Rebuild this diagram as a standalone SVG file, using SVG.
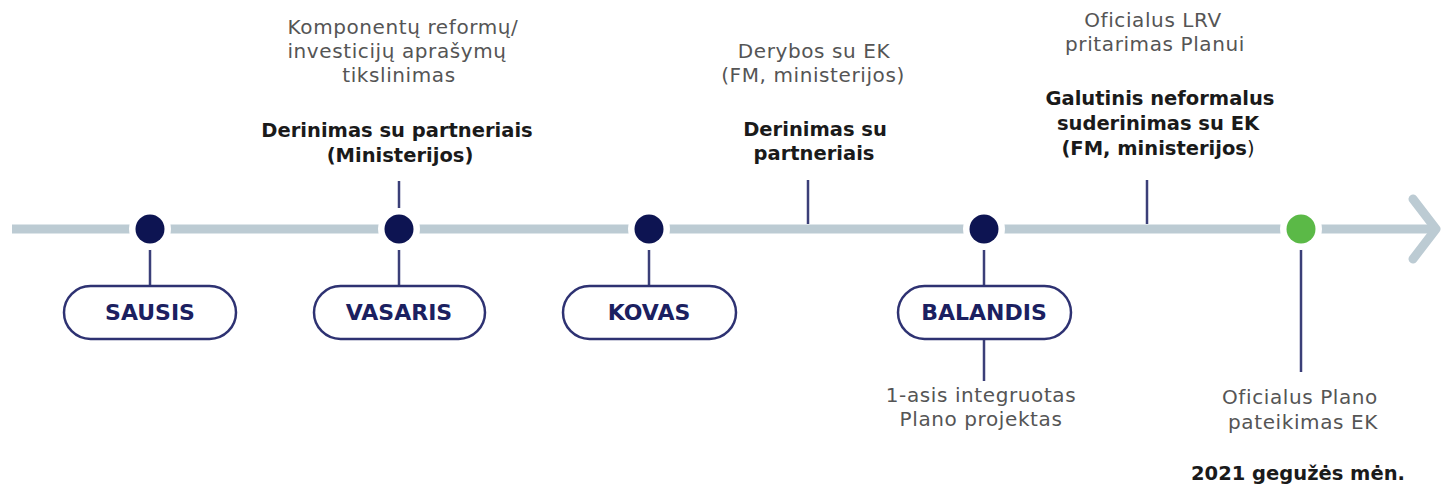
<svg xmlns="http://www.w3.org/2000/svg" width="1441" height="485" viewBox="0 0 1441 485">
<style>
.t{font-family:"DejaVu Sans","Liberation Sans",sans-serif;font-size:20px;letter-spacing:0.6px;fill:#555555;text-anchor:middle}
.b{font-family:"DejaVu Sans","Liberation Sans",sans-serif;font-size:19.5px;font-weight:bold;fill:#1a1a1a;text-anchor:middle}
.p{font-family:"DejaVu Sans","Liberation Sans",sans-serif;font-size:22px;font-weight:bold;fill:#1b2060;text-anchor:middle}
.pill{fill:#fff;stroke:#2e3272;stroke-width:2.5}
.tk{stroke:#3b3f78;stroke-width:2.5;fill:none}
.halo{fill:#fff}
.dot{fill:#0d1452}
</style>
<rect width="1441" height="485" fill="#fff"/>
<g id="connectors">
<line x1="12" y1="229" x2="1432" y2="229" stroke="#bccbd3" stroke-width="9"/>
<polyline points="1413,199 1436,229 1413,259" fill="none" stroke="#bccbd3" stroke-width="9" stroke-linecap="round" stroke-linejoin="round"/>
<line class="tk" x1="150" y1="249" x2="150" y2="286"/>
<line class="tk" x1="399" y1="181" x2="399" y2="208"/>
<line class="tk" x1="399" y1="249" x2="399" y2="286"/>
<line class="tk" x1="649" y1="249" x2="649" y2="286"/>
<line class="tk" x1="808" y1="180" x2="808" y2="224"/>
<line class="tk" x1="984" y1="249" x2="984" y2="286"/>
<line class="tk" x1="984" y1="339" x2="984" y2="381"/>
<line class="tk" x1="1147" y1="180" x2="1147" y2="224"/>
<line class="tk" x1="1301" y1="249" x2="1301" y2="372"/>
</g>
<g id="dot-sausis"><circle class="halo" cx="150" cy="229" r="21"/><circle class="dot" cx="150" cy="229" r="14.5"/></g>
<g id="dot-vasaris"><circle class="halo" cx="399" cy="229" r="21"/><circle class="dot" cx="399" cy="229" r="14.5"/></g>
<g id="dot-kovas"><circle class="halo" cx="649" cy="229" r="21"/><circle class="dot" cx="649" cy="229" r="14.5"/></g>
<g id="dot-balandis"><circle class="halo" cx="984" cy="229" r="21"/><circle class="dot" cx="984" cy="229" r="14.5"/></g>
<g id="dot-geguze"><circle class="halo" cx="1301" cy="229" r="21"/><circle cx="1301" cy="229" r="14.5" fill="#5bb947"/></g>
<g id="sausis"><rect class="pill" x="64" y="286" width="172" height="53" rx="26.5"/><text class="p" x="150" y="320">SAUSIS</text></g>
<g id="vasaris"><rect class="pill" x="314" y="286" width="171" height="53" rx="26.5"/><text class="p" x="399" y="320">VASARIS</text></g>
<g id="kovas"><rect class="pill" x="563" y="286" width="173" height="53" rx="26.5"/><text class="p" x="649" y="320">KOVAS</text></g>
<g id="balandis"><rect class="pill" x="898" y="286" width="173" height="53" rx="26.5"/><text class="p" x="984" y="320">BALANDIS</text></g>
<g id="vasaris-notes">
<text class="t" x="403" y="34">Komponentų reformų/</text>
<text class="t" x="397" y="58">investicijų aprašymų</text>
<text class="t" x="399" y="82">tikslinimas</text>
<text class="b" x="397" y="137">Derinimas su partneriais</text>
<text class="b" x="400" y="162">(Ministerijos)</text>
</g>
<g id="kovas-notes">
<text class="t" x="814" y="58">Derybos su EK</text>
<text class="t" x="813" y="82">(FM, ministerijos)</text>
<text class="b" x="815" y="136">Derinimas su</text>
<text class="b" x="814" y="160">partneriais</text>
</g>
<g id="balandis-top-notes">
<text class="t" x="1153" y="27">Oficialus LRV</text>
<text class="t" x="1155" y="51">pritarimas Planui</text>
<text class="b" x="1160" y="105">Galutinis neformalus</text>
<text class="b" x="1158" y="130">suderinimas su EK</text>
<text class="b" x="1158" y="155">(FM, ministerijos<tspan font-weight="normal">)</tspan></text>
</g>
<g id="balandis-notes">
<text class="t" x="981" y="402">1-asis integruotas</text>
<text class="t" x="981" y="426">Plano projektas</text>
</g>
<g id="geguze-notes">
<text class="t" x="1300" y="404">Oficialus Plano</text>
<text class="t" x="1303" y="429">pateikimas EK</text>
<text class="b" x="1298" y="480">2021 gegužės mėn.</text>
</g>
</svg>
